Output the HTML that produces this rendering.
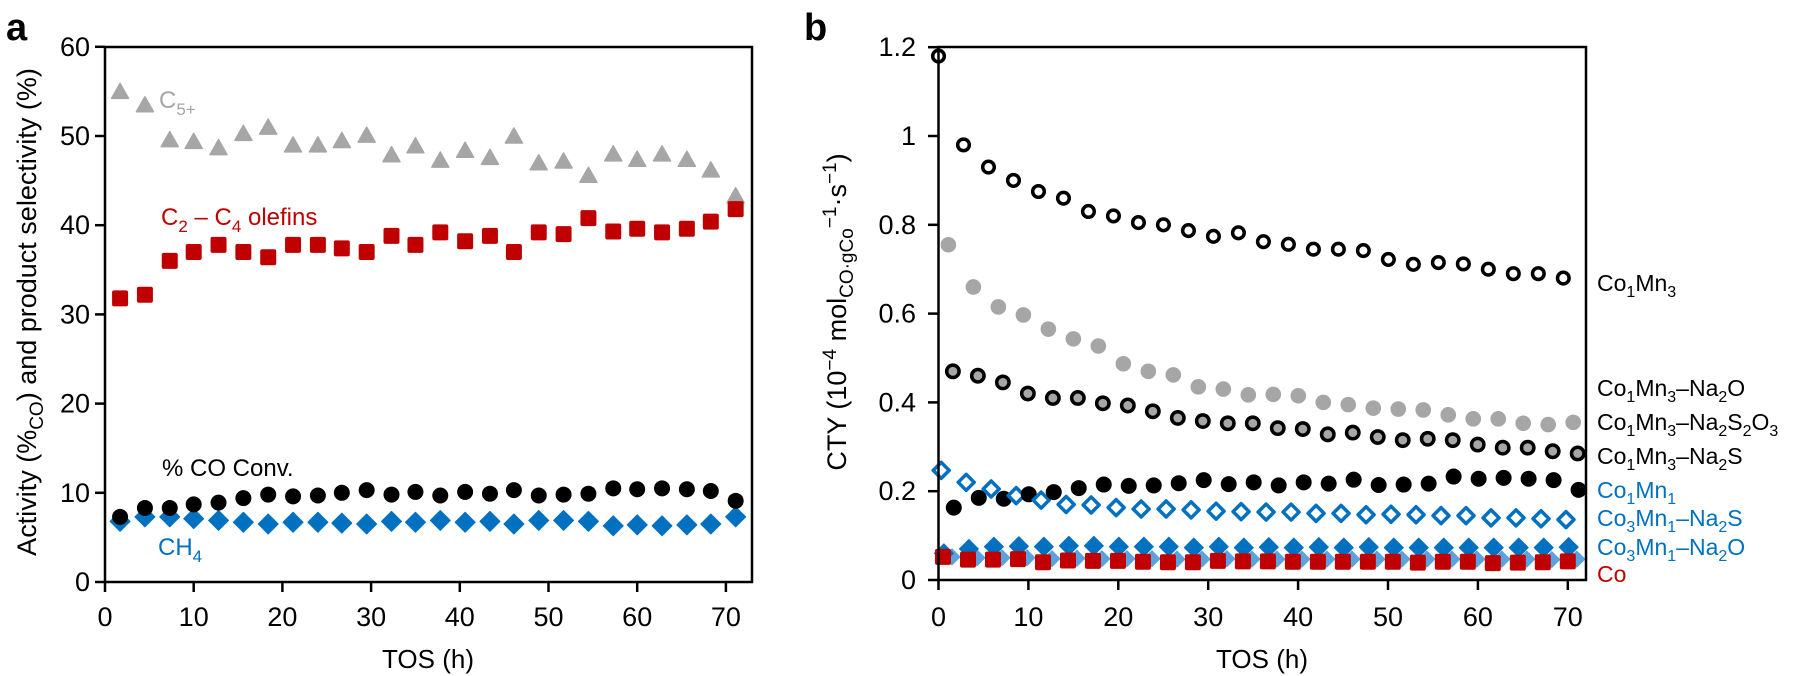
<!DOCTYPE html>
<html><head><meta charset="utf-8"><style>
html,body{margin:0;padding:0;background:#fff;}
svg{display:block;font-family:"Liberation Sans",Arial,sans-serif;}
</style></head><body>
<svg id="s" width="1794" height="676" viewBox="0 0 1794 676" xmlns="http://www.w3.org/2000/svg">
<text x="6" y="40" font-size="38" font-weight="bold">a</text>
<text x="804" y="40" font-size="38" font-weight="bold">b</text>
<g id="g"></g>
<rect x="105" y="47" width="647" height="535" fill="none" stroke="#000" stroke-width="2.5"/>
<text transform="translate(36,312) rotate(-90)" text-anchor="middle" font-size="27">Activity (%<tspan font-size="19" dy="7">CO</tspan><tspan dy="-7">) and product selectivity (%)</tspan></text>
<text x="428" y="668" text-anchor="middle" font-size="26">TOS (h)</text>
<text x="159" y="108" font-size="24" fill="#a6a6a6">C<tspan font-size="17" dy="7">5+</tspan></text>
<text x="161" y="225" font-size="24" fill="#c00000">C<tspan font-size="17" dy="7">2</tspan><tspan dy="-7"> – C</tspan><tspan font-size="17" dy="7">4</tspan><tspan dy="-7"> olefins</tspan></text>
<text x="162" y="476" font-size="24" fill="#000">% CO Conv.</text>
<text x="158" y="555" font-size="24" fill="#0070c0">CH<tspan font-size="17" dy="7">4</tspan></text>
<rect x="938.5" y="47" width="647.5" height="533" fill="none" stroke="#000" stroke-width="2.5"/>
<text transform="translate(846,312) rotate(-90)" text-anchor="middle" font-size="27">CTY (10<tspan font-size="19" dy="-10">−4</tspan><tspan dy="10"> mol</tspan><tspan font-size="19" dy="7">CO·gCo</tspan><tspan font-size="19" dy="-17">−1</tspan><tspan dy="10">·s</tspan><tspan font-size="19" dy="-10">−1</tspan><tspan dy="10">)</tspan></text>
<text x="1262" y="668" text-anchor="middle" font-size="26">TOS (h)</text>
<g font-size="23">
<text x="1597" y="291">Co<tspan font-size="16" dy="6">1</tspan><tspan dy="-6">Mn</tspan><tspan font-size="16" dy="6">3</tspan></text>
<text x="1597" y="396">Co<tspan font-size="16" dy="6">1</tspan><tspan dy="-6">Mn</tspan><tspan font-size="16" dy="6">3</tspan><tspan dy="-6">–Na</tspan><tspan font-size="16" dy="6">2</tspan><tspan dy="-6">O</tspan></text>
<text x="1597" y="430">Co<tspan font-size="16" dy="6">1</tspan><tspan dy="-6">Mn</tspan><tspan font-size="16" dy="6">3</tspan><tspan dy="-6">–Na</tspan><tspan font-size="16" dy="6">2</tspan><tspan dy="-6">S</tspan><tspan font-size="16" dy="6">2</tspan><tspan dy="-6">O</tspan><tspan font-size="16" dy="6">3</tspan></text>
<text x="1597" y="464">Co<tspan font-size="16" dy="6">1</tspan><tspan dy="-6">Mn</tspan><tspan font-size="16" dy="6">3</tspan><tspan dy="-6">–Na</tspan><tspan font-size="16" dy="6">2</tspan><tspan dy="-6">S</tspan></text>
<text x="1597" y="498" fill="#0070c0">Co<tspan font-size="16" dy="6">1</tspan><tspan dy="-6">Mn</tspan><tspan font-size="16" dy="6">1</tspan></text>
<text x="1597" y="526" fill="#0070c0">Co<tspan font-size="16" dy="6">3</tspan><tspan dy="-6">Mn</tspan><tspan font-size="16" dy="6">1</tspan><tspan dy="-6">–Na</tspan><tspan font-size="16" dy="6">2</tspan><tspan dy="-6">S</tspan></text>
<text x="1597" y="555" fill="#0070c0">Co<tspan font-size="16" dy="6">3</tspan><tspan dy="-6">Mn</tspan><tspan font-size="16" dy="6">1</tspan><tspan dy="-6">–Na</tspan><tspan font-size="16" dy="6">2</tspan><tspan dy="-6">O</tspan></text>
<text x="1597" y="582" fill="#c00000">Co</text>
</g>
</svg>
<script>
var g=document.getElementById('g'),h='';
function T(x,y,t,a,fs){h+='<text x="'+x+'" y="'+y+'" text-anchor="'+(a||'middle')+'" font-size="'+(fs||27)+'">'+t+'</text>';}
function L(x1,y1,x2,y2){h+='<line x1="'+x1+'" y1="'+y1+'" x2="'+x2+'" y2="'+y2+'" stroke="#000" stroke-width="2.5"/>';}
var AX=function(t){return 105+8.87*t},AY=function(v){return 582-8.92*v};
for(var i=0;i<=70;i+=10){L(AX(i),582,AX(i),592);T(AX(i),626,i);}
for(var v=0;v<=60;v+=10){L(95,AY(v),105,AY(v));T(90,AY(v)+9,v,'end');}
var ta=[1.7,4.5,7.3,10,12.8,15.6,18.4,21.2,24,26.7,29.5,32.3,35,37.8,40.6,43.4,46.1,48.9,51.7,54.5,57.3,60,62.8,65.6,68.3,71.1];
var c5=[55,53.5,49.6,49.4,48.7,50.3,51,49,49,49.5,50.1,47.9,48.9,47.3,48.4,47.6,50,47,47.2,45.6,48,47.4,48,47.4,46.2,43.3];
var ol=[31.8,32.2,36,37,37.8,37,36.4,37.8,37.8,37.4,37,38.8,37.8,39.2,38.2,38.8,37,39.2,39,40.8,39.3,39.6,39.2,39.6,40.4,41.8];
var co=[7.3,8.3,8.3,8.7,8.9,9.4,9.8,9.6,9.7,10,10.3,9.8,10.1,9.7,10.1,9.9,10.3,9.7,9.8,9.9,10.5,10.4,10.5,10.4,10.2,9.1];
var ch=[6.8,7.3,7.3,7.1,6.9,6.7,6.5,6.7,6.7,6.6,6.5,6.8,6.7,6.9,6.7,6.8,6.5,6.9,6.9,6.8,6.3,6.4,6.3,6.4,6.5,7.3];
function tri(x,y,c){h+='<path d="M'+x+' '+(y-8)+'L'+(x+8.5)+' '+(y+7)+'L'+(x-8.5)+' '+(y+7)+'Z" fill="'+c+'" stroke="'+c+'" stroke-width="1.5" stroke-linejoin="round"/>';}
function sq(x,y,c){h+='<rect x="'+(x-8)+'" y="'+(y-8)+'" width="16" height="16" rx="2" fill="'+c+'"/>';}
function dia(x,y,c,r,open){r=r||9.5;h+='<path d="M'+x+' '+(y-r)+'L'+(x+r)+' '+y+'L'+x+' '+(y+r)+'L'+(x-r)+' '+y+'Z" fill="'+(open?'#fff':c)+'" stroke="'+c+'" stroke-width="'+(open?3.5:1)+'" stroke-linejoin="round"/>';}
function cir(x,y,f,s,r,sw){h+='<circle cx="'+x+'" cy="'+y+'" r="'+r+'" fill="'+f+'"'+(s?' stroke="'+s+'" stroke-width="'+sw+'"':'')+'/>';}
for(i=0;i<26;i++){tri(AX(ta[i]),AY(c5[i]),'#a6a6a6');sq(AX(ta[i]),AY(ol[i]),'#c00000');dia(AX(ta[i]),AY(ch[i]),'#0070c0',10);cir(AX(ta[i]),AY(co[i]),'#000',null,8);}
var BX=function(t){return 938.5+8.99*t},BY=function(v){return 580-444*v};
for(i=0;i<=70;i+=10){L(BX(i),580,BX(i),590);T(BX(i),626,i);}
var yl=['0','0.2','0.4','0.6','0.8','1','1.2'];
for(i=0;i<=6;i++){L(928,BY(i*0.2),938.5,BY(i*0.2));T(916,BY(i*0.2)+9,yl[i],'end');}
var m3=[1.18,0.98,0.93,0.90,0.875,0.86,0.83,0.82,0.805,0.8,0.787,0.774,0.782,0.762,0.756,0.745,0.745,0.742,0.722,0.711,0.715,0.712,0.7,0.69,0.69,0.68];
var na2o=[0.755,0.66,0.615,0.597,0.565,0.543,0.527,0.487,0.47,0.462,0.435,0.43,0.417,0.418,0.415,0.4,0.395,0.387,0.385,0.383,0.372,0.363,0.363,0.353,0.35,0.355];
var s2o3=[0.47,0.46,0.445,0.42,0.41,0.41,0.398,0.393,0.38,0.365,0.358,0.353,0.353,0.342,0.34,0.328,0.332,0.322,0.315,0.318,0.315,0.305,0.298,0.298,0.29,0.285];
var na2s=[0.163,0.185,0.183,0.193,0.198,0.207,0.215,0.212,0.213,0.218,0.225,0.216,0.22,0.213,0.22,0.217,0.226,0.214,0.215,0.217,0.233,0.228,0.23,0.228,0.225,0.203];
var m1=[0.247,0.22,0.205,0.19,0.18,0.17,0.169,0.163,0.16,0.16,0.158,0.155,0.154,0.153,0.153,0.15,0.15,0.147,0.148,0.147,0.145,0.145,0.14,0.14,0.138,0.136];
var bS=[0.06,0.07,0.075,0.076,0.075,0.077,0.077,0.075,0.075,0.075,0.073,0.075,0.073,0.074,0.073,0.074,0.073,0.074,0.073,0.073,0.073,0.073,0.073,0.073,0.073,0.074];
var bO=[0.052,0.05,0.05,0.05,0.048,0.049,0.048,0.048,0.048,0.047,0.047,0.048,0.047,0.047,0.047,0.047,0.047,0.047,0.047,0.047,0.047,0.047,0.047,0.047,0.046,0.047];
var cs=[0.052,0.046,0.046,0.047,0.04,0.044,0.043,0.043,0.041,0.04,0.04,0.043,0.042,0.042,0.041,0.041,0.041,0.041,0.041,0.039,0.041,0.041,0.038,0.039,0.04,0.042];
for(i=0;i<26;i++){
 var d=2.78*i;
 dia(BX(d+1.5),BY(bO[i]),'#5ba3de',8);
 dia(BX(d+0.6),BY(bS[i]),'#0070c0',9.5);
 sq(BX(d+0.5),BY(cs[i]),'#c00000');
 dia(BX(d+0.3),BY(m1[i]),'#0070c0',8,true);
 cir(BX(d+1.7),BY(na2s[i]),'#000',null,8);
 cir(BX(d+1.1),BY(na2o[i]),'#a6a6a6',null,7.8);
 cir(BX(d+1.6),BY(s2o3[i]),'#a6a6a6','#000',6.2,3.5);
 cir(BX(d),BY(m3[i]),'#fff','#000',5.8,3.5);
}
g.innerHTML=h;
</script>
</body></html>
